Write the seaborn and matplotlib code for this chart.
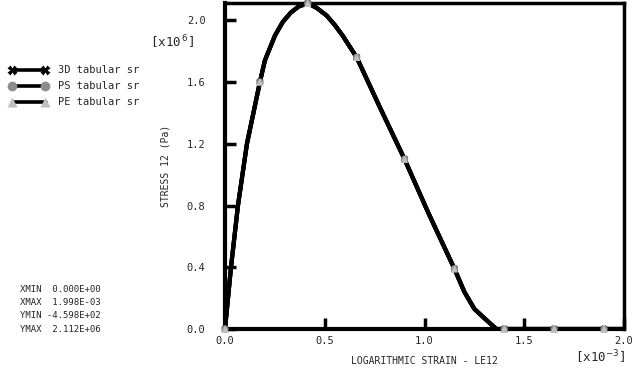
import numpy as np
import pandas as pd
import matplotlib
matplotlib.use("Agg")
import matplotlib.pyplot as plt
import seaborn as sns

# strain in units of 1e-3, stress in units of 1e6 Pa
strain = [0.0, 0.03, 0.065, 0.11, 0.175, 0.20, 0.25, 0.29, 0.33, 0.37, 0.415, 0.46, 0.51, 0.55,
          0.59, 0.66, 0.775, 0.90, 1.02, 1.15, 1.20, 1.25, 1.30, 1.36, 1.40, 1.65, 1.90, 1.998]
stress = [0.0, 0.40, 0.80, 1.20, 1.60, 1.74, 1.90, 1.99, 2.05, 2.09, 2.11, 2.08, 2.03, 1.97,
          1.90, 1.76, 1.44, 1.10, 0.75, 0.39, 0.24, 0.13, 0.07, 0.0, 0.0, 0.0, 0.0, 0.0]
marker_strain = [0.0, 0.175, 0.415, 0.66, 0.90, 1.15, 1.40, 1.65, 1.90]
marker_stress = [0.0, 1.60, 2.11, 1.76, 1.10, 0.39, 0.0, 0.0, 0.0]
series = ["3D tabular sr", "PS tabular sr", "PE tabular sr"]
marker_styles = ["X", "o", "^"]
marker_colors = ["#000000", "#8c8c8c", "#c0c0c0"]
xticks = [0.0, 0.5, 1.0, 1.5, 2.0]
yticks = [0.0, 0.4, 0.8, 1.2, 1.6, 2.0]
summary = ["XMIN  0.000E+00", "XMAX  1.998E-03", "YMIN -4.598E+02", "YMAX  2.112E+06"]

sns.set_style("white")
plt.rcParams['font.family'] = ['DejaVu Sans Mono']
mono = 'DejaVu Sans Mono'

fig = plt.figure(figsize=(6.35, 3.72), dpi=100)
ax = fig.add_axes([225/635, 1-329/372, 399/635, 326/372])

line_df = pd.DataFrame({"strain": strain, "stress": stress})
mark_df = pd.DataFrame({"strain": marker_strain, "stress": marker_stress})
for s, m, c in zip(series, marker_styles, marker_colors):
    sns.lineplot(data=line_df, x="strain", y="stress", sort=False, ax=ax,
                 color="black", linewidth=3.0, estimator=None, legend=False)
for s, m, c in zip(series, marker_styles, marker_colors):
    sns.scatterplot(data=mark_df, x="strain", y="stress", ax=ax, marker=m,
                    color=c, s=28, edgecolor="none", legend=False, zorder=5, clip_on=False)

ax.set_xlim(0, 1.998)
ax.set_ylim(0, 2.112)
ax.set_xticks(xticks)
ax.set_xticklabels([f"{v:.1f}" for v in xticks], fontsize=7.5, family=mono)
ax.set_yticks(yticks)
ax.set_yticklabels([f"{v:.1f}" for v in yticks], fontsize=7.5, family=mono)
ax.tick_params(direction="in", length=8, width=2.5, color="black", bottom=True, left=True,
               top=False, right=False)
ax.tick_params(axis="x", pad=5)
ax.tick_params(axis="y", pad=14)
for side, w in [("left", 3), ("bottom", 3), ("top", 2.5), ("right", 2.5)]:
    ax.spines[side].set_visible(True)
    ax.spines[side].set_color("black")
    ax.spines[side].set_linewidth(w)
ax.set_xlabel("LOGARITHMIC STRAIN - LE12", fontsize=7, family=mono, labelpad=7)
ax.set_ylabel("STRESS 12 (Pa)", fontsize=7, family=mono, labelpad=12)

fig.text(150/635, 1-42/372, r"[x10$^{\,6}$]", fontsize=9, family=mono, va="center", ha="left")
fig.text(575/635, 1-357/372, r"[x10$^{-3}$]", fontsize=9, family=mono, va="center", ha="left")

# legend
ly = [70, 86, 102]
for y, s, m, c in zip(ly, series, marker_styles, marker_colors):
    yf = 1 - y/372
    fig.add_artist(plt.Line2D([14/635, 46/635], [yf, yf], color="black", linewidth=2.6,
                              transform=fig.transFigure))
    fig.add_artist(plt.Line2D([12/635, 45/635], [yf, yf], linestyle="none", marker=m,
                              markersize=7, color=c, markeredgecolor="none",
                              transform=fig.transFigure))
    fig.text(58/635, yf, s, fontsize=7.5, family=mono, va="center", ha="left")

for i, t in enumerate(summary):
    fig.text(20/635, 1-(289+13.5*i)/372, t, fontsize=6.5, family=mono, va="center", ha="left")

fig.savefig("out.png", dpi=100)
